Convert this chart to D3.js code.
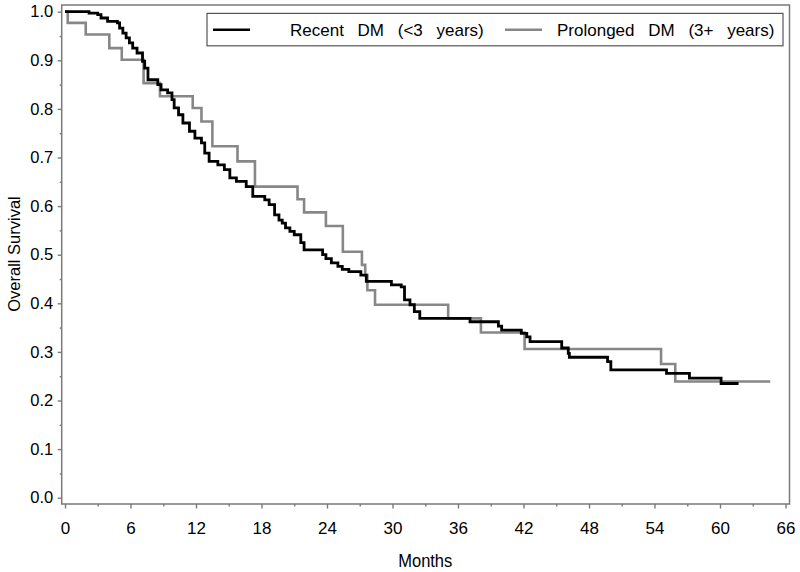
<!DOCTYPE html>
<html>
<head>
<meta charset="utf-8">
<script src="https://cdn.jsdelivr.net/npm/d3@7"></script>
<style>
  html, body { margin: 0; padding: 0; background: #fff; }
  svg { display: block; font-family: "Liberation Sans", Arial, sans-serif; }
</style>
</head>
<body>
<svg id="chart" width="800" height="572"></svg>
<script>
// ---- Data ----
const seriesNames = ["Recent DM (<3 years)", "Prolonged DM (3+ years)"];

// Recent DM (<3 years): times (months) at which survival steps, and the new survival value
const recentMonths = [0, 2.2, 3.0, 3.3, 3.9, 4.8, 5.0, 5.3, 5.6, 5.9, 6.2, 6.6, 7.1, 7.3, 7.6, 8.5, 8.8, 9.4, 9.8, 10.0,
  10.4, 10.8, 11.4, 11.9, 12.5, 12.8, 13.2, 14.0, 14.6, 15.1, 15.7, 16.6, 17.2, 18.3, 18.7, 19.2, 19.6, 19.9, 20.2, 20.6,
  21.0, 21.6, 21.9, 23.6, 23.9, 24.4, 25.0, 25.4, 26.0, 27.1, 27.6, 29.9, 30.8, 31.1, 31.6, 32.0, 32.5, 37.1, 39.7, 40.0,
  41.8, 42.3, 42.6, 45.5, 46.1, 46.2, 49.7, 50.0, 55.1, 57.2, 60.1, 61.7];
const recentSurv = [1.0, 0.997, 0.994, 0.987, 0.980, 0.977, 0.966, 0.956, 0.946, 0.936, 0.925, 0.915, 0.898, 0.884, 0.860, 0.850, 0.839, 0.833, 0.819, 0.802,
  0.788, 0.771, 0.754, 0.740, 0.730, 0.709, 0.692, 0.685, 0.675, 0.658, 0.651, 0.640, 0.620, 0.613, 0.603, 0.582, 0.571, 0.565, 0.555, 0.548,
  0.541, 0.525, 0.510, 0.500, 0.492, 0.483, 0.476, 0.470, 0.465, 0.458, 0.445, 0.438, 0.434, 0.407, 0.397, 0.383, 0.369, 0.362, 0.353, 0.345,
  0.338, 0.331, 0.321, 0.308, 0.297, 0.289, 0.280, 0.263, 0.256, 0.246, 0.235, 0.235];

// Prolonged DM (3+ years)
const prolongedMonths = [0, 0.25, 1.9, 4.06, 5.2, 7.2, 8.7, 11.7, 12.5, 13.5, 15.8, 17.4, 21.3, 21.9, 23.9, 25.45, 27.2, 27.5,
  27.7, 28.4, 35.1, 38.1, 42.1, 54.6, 55.9, 64.6];
const prolongedSurv = [1.0, 0.977, 0.953, 0.925, 0.901, 0.853, 0.826, 0.802, 0.774, 0.723, 0.692, 0.640, 0.614, 0.587, 0.559, 0.506, 0.479, 0.458,
  0.427, 0.397, 0.369, 0.340, 0.306, 0.275, 0.239, 0.239];

const xMajorTicks = [0, 6, 12, 18, 24, 30, 36, 42, 48, 54, 60, 66];
const xMinorTicks = [3, 9, 15, 21, 27, 33, 39, 45, 51, 57, 63];
const yMajorTicks = [0, 0.1, 0.2, 0.3, 0.4, 0.5, 0.6, 0.7, 0.8, 0.9, 1.0];
const yMinorTicks = [0.05, 0.15, 0.25, 0.35, 0.45, 0.55, 0.65, 0.75, 0.85, 0.95];

const xTitle = "Months";
const yTitle = "Overall Survival";

// ---- Layout ----
const frame = { left: 61.7, right: 789.5, top: 5, bottom: 504 };
const x = d3.scaleLinear().domain([0, 66]).range([65, 785.5]);
const y = d3.scaleLinear().domain([0, 1]).range([497.7, 11.7]);
const axisColor = "#7a7a7a";

const svg = d3.select("#chart");

// Frame
svg.append("rect")
  .attr("x", frame.left).attr("y", frame.top)
  .attr("width", frame.right - frame.left).attr("height", frame.bottom - frame.top)
  .attr("fill", "none").attr("stroke", axisColor).attr("stroke-width", 1.5);

// X axis
const xAxis = svg.append("g").attr("transform", `translate(0,${frame.bottom})`)
  .call(d3.axisBottom(x).tickValues(xMajorTicks).tickFormat(d3.format("d")).tickSize(4.5).tickPadding(13));
const xMinor = svg.append("g").attr("transform", `translate(0,${frame.bottom})`)
  .call(d3.axisBottom(x).tickValues(xMinorTicks).tickFormat("").tickSize(2.5));

// Y axis
const yAxis = svg.append("g").attr("transform", `translate(${frame.left},0)`)
  .call(d3.axisLeft(y).tickValues(yMajorTicks).tickFormat(d3.format(".1f")).tickSize(4).tickPadding(4.5));
const yMinor = svg.append("g").attr("transform", `translate(${frame.left},0)`)
  .call(d3.axisLeft(y).tickValues(yMinorTicks).tickFormat("").tickSize(2));

[xAxis, xMinor, yAxis, yMinor].forEach(g => {
  g.select(".domain").remove();
  g.selectAll(".tick line").attr("stroke", axisColor).attr("stroke-width", 1.4);
  g.selectAll(".tick text").attr("fill", "#000")
    .style("font-family", "'Liberation Sans', Arial, sans-serif");
});
xAxis.selectAll(".tick text").style("font-size", "17px");
yAxis.selectAll(".tick text").style("font-size", "16.5px");

// Axis titles
svg.append("text").attr("transform", `translate(${(x(0) + x(66)) / 2},566.5) scale(1,1.1)`)
  .attr("text-anchor", "middle").style("font-size", "16.5px").attr("fill", "#000").text(xTitle);
svg.append("text").attr("transform", `translate(20,254) rotate(-90)`)
  .attr("text-anchor", "middle").style("font-size", "16.5px").attr("fill", "#000").text(yTitle);

// Curves
const line = d3.line().x(d => x(d[0])).y(d => y(d[1])).curve(d3.curveStepAfter);
const recentData = recentMonths.map((m, i) => [m, recentSurv[i]]);
const prolongedData = prolongedMonths.map((m, i) => [m, prolongedSurv[i]]);

svg.append("path").datum(prolongedData).attr("d", line)
  .attr("fill", "none").attr("stroke", "#878787").attr("stroke-width", 2.6);
svg.append("path").datum(recentData).attr("d", line)
  .attr("fill", "none").attr("stroke", "#000").attr("stroke-width", 2.8);

// Legend
const legend = svg.append("g");
legend.append("rect").attr("x", 207).attr("y", 13.4).attr("width", 576).attr("height", 32.4)
  .attr("fill", "#fff").attr("stroke", "#555").attr("stroke-width", 1.2);
const legendItems = [
  { name: seriesNames[0], color: "#000", lx: 213, tx: 290 },
  { name: seriesNames[1], color: "#878787", lx: 505, tx: 557 }
];
legendItems.forEach(it => {
  legend.append("line").attr("x1", it.lx).attr("x2", it.lx + 37).attr("y1", 29.8).attr("y2", 29.8)
    .attr("stroke", it.color).attr("stroke-width", 2.6);
  legend.append("text").attr("x", it.tx).attr("y", 36).style("font-size", "17px")
    .style("word-spacing", "9px").attr("fill", "#000").text(it.name);
});
</script>
</body>
</html>
